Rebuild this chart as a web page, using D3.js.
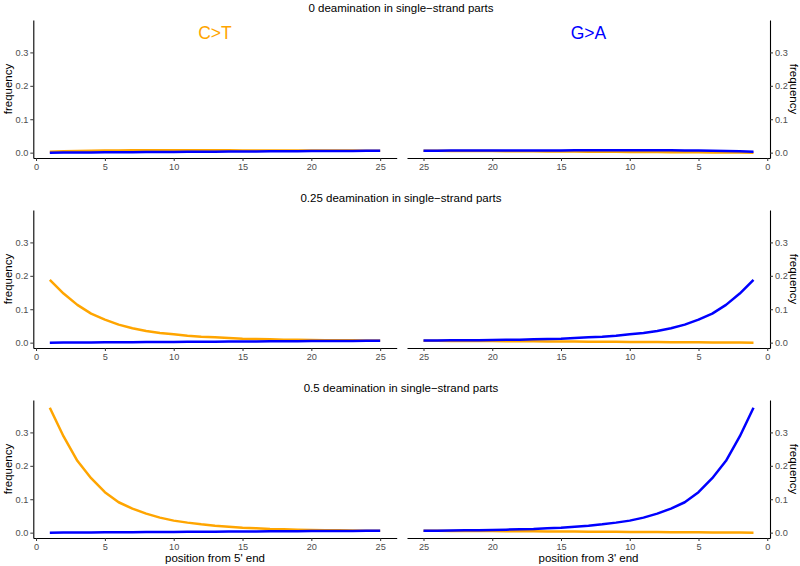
<!DOCTYPE html>
<html>
<head>
<meta charset="utf-8">
<script src="https://cdn.jsdelivr.net/npm/d3@7"></script>
<style>
  html, body { margin: 0; padding: 0; background: #fff; }
  svg { display: block; font-family: "Liberation Sans", Arial, Helvetica, sans-serif; }
</style>
</head>
<body>
<svg id="chart" width="800" height="566"></svg>
<script>
// ---------------- data ----------------
const positions = [1,2,3,4,5,6,7,8,9,10,11,12,13,14,15,16,17,18,19,20,21,22,23,24,25];
const rowTitles = [
  "0 deamination in single\u2212strand parts",
  "0.25 deamination in single\u2212strand parts",
  "0.5 deamination in single\u2212strand parts"
];
const xTicks = [0, 5, 10, 15, 20, 25];
const yTicks = [0, 0.1, 0.2, 0.3];
const leftXLabel = "position from 5' end";
const rightXLabel = "position from 3' end";
const yLabel = "frequency";
const annotations = ["C>T", "G>A"];

// C>T frequency by position from 5' end (orange, left panels)
const ct5_0   = [0.003,0.004,0.005,0.0058,0.0064,0.0068,0.007,0.0072,0.0072,0.0072,0.0071,0.007,0.007,0.0069,0.0068,0.0067,0.0066,0.0065,0.0064,0.0063,0.0062,0.0062,0.0061,0.006,0.006];
const ct5_25  = [0.188,0.147,0.113,0.087,0.069,0.054,0.043,0.035,0.029,0.025,0.021,0.018,0.016,0.014,0.012,0.011,0.010,0.009,0.0085,0.008,0.0075,0.007,0.007,0.0065,0.0065];
const ct5_50  = [0.374,0.288,0.215,0.163,0.121,0.091,0.072,0.057,0.045,0.036,0.030,0.025,0.021,0.018,0.015,0.013,0.011,0.010,0.009,0.008,0.0075,0.007,0.0065,0.006,0.006];
// G>A frequency by position from 5' end (blue, left panels)
const ga5_0   = [0.000,0.0003,0.0005,0.0008,0.001,0.0013,0.0015,0.0018,0.002,0.0023,0.0025,0.0028,0.003,0.0033,0.0035,0.0038,0.004,0.0042,0.0044,0.0046,0.0048,0.005,0.0052,0.0054,0.0056];
const ga5_25  = [0.000,0.0003,0.0005,0.0008,0.001,0.0013,0.0015,0.0018,0.002,0.0023,0.0025,0.0028,0.003,0.0033,0.0035,0.0038,0.004,0.0042,0.0044,0.0046,0.0048,0.005,0.0052,0.0054,0.0056];
const ga5_50  = [0.000,0.0003,0.0005,0.0008,0.001,0.0013,0.0015,0.0018,0.002,0.0023,0.0025,0.0028,0.003,0.0033,0.0035,0.0038,0.004,0.0042,0.0044,0.0046,0.0048,0.005,0.0052,0.0054,0.0056];
// G>A frequency by position from 3' end (blue, right panels)
const ga3_0   = [0.003,0.004,0.005,0.0058,0.0064,0.0068,0.007,0.0072,0.0072,0.0072,0.0071,0.007,0.007,0.0069,0.0068,0.0067,0.0066,0.0065,0.0064,0.0063,0.0062,0.0062,0.0061,0.006,0.006];
const ga3_25  = [0.188,0.147,0.113,0.087,0.069,0.054,0.043,0.035,0.029,0.025,0.021,0.018,0.016,0.014,0.012,0.011,0.010,0.009,0.0085,0.008,0.0075,0.007,0.007,0.0065,0.0065];
const ga3_50  = [0.374,0.288,0.215,0.163,0.121,0.091,0.072,0.057,0.045,0.036,0.030,0.025,0.021,0.018,0.015,0.013,0.011,0.010,0.009,0.008,0.0075,0.007,0.0065,0.006,0.006];
// C>T frequency by position from 3' end (orange, right panels)
const ct3_0   = [0.000,0.0003,0.0005,0.0008,0.001,0.0013,0.0015,0.0018,0.002,0.0023,0.0025,0.0028,0.003,0.0033,0.0035,0.0038,0.004,0.0042,0.0044,0.0046,0.0048,0.005,0.0052,0.0054,0.0056];
const ct3_25  = [0.000,0.0003,0.0005,0.0008,0.001,0.0013,0.0015,0.0018,0.002,0.0023,0.0025,0.0028,0.003,0.0033,0.0035,0.0038,0.004,0.0042,0.0044,0.0046,0.0048,0.005,0.0052,0.0054,0.0056];
const ct3_50  = [0.000,0.0003,0.0005,0.0008,0.001,0.0013,0.0015,0.0018,0.002,0.0023,0.0025,0.0028,0.003,0.0033,0.0035,0.0038,0.004,0.0042,0.0044,0.0046,0.0048,0.005,0.0052,0.0054,0.0056];

const rows = [
  { title: rowTitles[0], ct5: ct5_0,  ga5: ga5_0,  ga3: ga3_0,  ct3: ct3_0 },
  { title: rowTitles[1], ct5: ct5_25, ga5: ga5_25, ga3: ga3_25, ct3: ct3_25 },
  { title: rowTitles[2], ct5: ct5_50, ga5: ga5_50, ga3: ga3_50, ct3: ct3_50 }
];

// ---------------- layout ----------------
const ORANGE = "#FFA500", BLUE = "#0000FF";
const rowTops = [20, 210, 400];
const panelH = 138;
const leftX = [33.3, 396.7], rightX = [407, 770];

const svg = d3.select("#chart");

const xLeft = d3.scaleLinear().domain([-0.2, 26.2]).range(leftX);
const xRight = d3.scaleLinear().domain([26.2, -0.2]).range(rightX);

function styleAxis(g) {
  g.select(".domain").attr("stroke", "#000").attr("stroke-width", 1.1);
  g.selectAll(".tick line").attr("stroke", "#333").attr("stroke-width", 1);
  g.selectAll(".tick text").attr("fill", "#4D4D4D").style("font-size", "9.2px")
    .style("font-family", '"Liberation Sans", Arial, sans-serif');
}

rows.forEach((row, i) => {
  const top = rowTops[i];
  const bottom = top + panelH;
  const y = d3.scaleLinear().domain([-0.016, 0.397]).range([bottom, top]);

  // row title
  svg.append("text")
    .attr("x", 401).attr("y", top - 8.5)
    .attr("text-anchor", "middle")
    .style("font-size", "11.5px").attr("fill", "#000")
    .text(row.title);

  const line = (xs) => d3.line().x((d, k) => xs(positions[k])).y(d => y(d)).curve(d3.curveLinear);

  // ---- left panel ----
  const gl = svg.append("g");
  gl.append("path").datum(row.ct5).attr("d", line(xLeft))
    .attr("fill", "none").attr("stroke", ORANGE).attr("stroke-width", 2.5).attr("stroke-linejoin", "round");
  gl.append("path").datum(row.ga5).attr("d", line(xLeft))
    .attr("fill", "none").attr("stroke", BLUE).attr("stroke-width", 2.5).attr("stroke-linejoin", "round");

  const axL = gl.append("g").attr("transform", `translate(${leftX[0]},0)`)
    .call(d3.axisLeft(y).tickValues(yTicks).tickFormat(d3.format(".1f")).tickSize(3).tickSizeOuter(0).tickPadding(2));
  styleAxis(axL);
  const axB = gl.append("g").attr("transform", `translate(0,${bottom})`)
    .call(d3.axisBottom(xLeft).tickValues(xTicks).tickSize(3).tickSizeOuter(0).tickPadding(2));
  styleAxis(axB);

  gl.append("text")
    .attr("transform", `translate(11.5,${(top + bottom) / 2}) rotate(-90)`)
    .attr("text-anchor", "middle").style("font-size", "11.5px").attr("fill", "#000")
    .text(yLabel);

  // ---- right panel ----
  const gr = svg.append("g");
  gr.append("path").datum(row.ct3).attr("d", line(xRight))
    .attr("fill", "none").attr("stroke", ORANGE).attr("stroke-width", 2.5).attr("stroke-linejoin", "round");
  gr.append("path").datum(row.ga3).attr("d", line(xRight))
    .attr("fill", "none").attr("stroke", BLUE).attr("stroke-width", 2.5).attr("stroke-linejoin", "round");

  const axR = gr.append("g").attr("transform", `translate(${rightX[1]},0)`)
    .call(d3.axisRight(y).tickValues(yTicks).tickFormat(d3.format(".1f")).tickSize(3).tickSizeOuter(0).tickPadding(2));
  styleAxis(axR);
  const axB2 = gr.append("g").attr("transform", `translate(0,${bottom})`)
    .call(d3.axisBottom(xRight).tickValues(xTicks).tickSize(3).tickSizeOuter(0).tickPadding(2));
  styleAxis(axB2);

  gr.append("text")
    .attr("transform", `translate(789.5,${(top + bottom) / 2}) rotate(90)`)
    .attr("text-anchor", "middle").style("font-size", "11.5px").attr("fill", "#000")
    .text(yLabel);

  // annotations in first row
  if (i === 0) {
    gl.append("text").attr("x", xLeft(13)).attr("y", y(0.36)).attr("dy", "0.36em")
      .attr("text-anchor", "middle").style("font-size", "17.5px").attr("fill", ORANGE)
      .text(annotations[0]);
    gr.append("text").attr("x", xRight(13)).attr("y", y(0.36)).attr("dy", "0.36em")
      .attr("text-anchor", "middle").style("font-size", "17.5px").attr("fill", BLUE)
      .text(annotations[1]);
  }

  // x axis titles in last row
  if (i === rows.length - 1) {
    gl.append("text").attr("x", (leftX[0] + leftX[1]) / 2).attr("y", 561.5)
      .attr("text-anchor", "middle").style("font-size", "11.5px").attr("fill", "#000")
      .text(leftXLabel);
    gr.append("text").attr("x", (rightX[0] + rightX[1]) / 2).attr("y", 561.5)
      .attr("text-anchor", "middle").style("font-size", "11.5px").attr("fill", "#000")
      .text(rightXLabel);
  }
});
</script>
</body>
</html>
